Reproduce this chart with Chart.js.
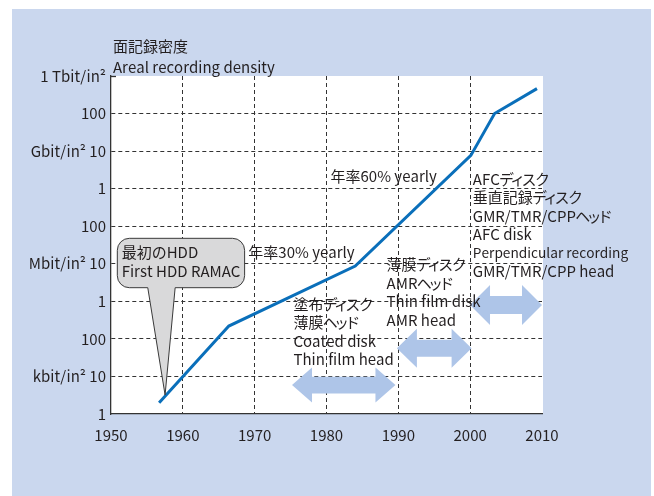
<!DOCTYPE html>
<html><head><meta charset="utf-8">
<script src="https://cdn.jsdelivr.net/npm/chart.js@4.4.1/dist/chart.umd.min.js"></script>
<style>html,body{margin:0;padding:0;background:#fff}#wrap{width:654px;height:496px;position:relative}</style>
</head><body><div id="wrap"><canvas id="c"></canvas></div>
<script>
// ---- data ----
const years = [1956.7, 1966.4, 1984.0, 2000.1, 2003.4, 2009.3];
const densityKbit = [2, 220, 8700, 7.7e6, 1.0e8, 4.6e8]; // kbit/in²
const xTickValues = [1950, 1960, 1970, 1980, 1990, 2000, 2010];
const xTickLabels = ['1950', '1960', '1970', '1980', '1990', '2000', '2010'];
const yTickValues = [1, 10, 100, 1e3, 1e4, 1e5, 1e6, 1e7, 1e8, 1e9];
const yTickLabels = ['1', 'kbit/in\u00B2 10', '100', '1', 'Mbit/in\u00B2 10', '100', '1', 'Gbit/in\u00B2 10', '100', '1 Tbit/in\u00B2'];
const titleLines = ['面記録密度', 'Areal recording density'];
const calloutLines = ['最初のHDD', 'First HDD RAMAC'];
const rate30 = '年率30% yearly';
const rate60 = '年率60% yearly';
const era1 = ['塗布ディスク', '薄膜ヘッド', 'Coated disk', 'Thin film head'];
const era2 = ['薄膜ディスク', 'AMRヘッド', 'Thin film disk', 'AMR head'];
const era3 = ['AFCディスク', '垂直記録ディスク', 'GMR/TMR/CPPヘッド', 'AFC disk', 'Perpendicular recording', 'GMR/TMR/CPP head'];

const FONT = "'Noto Sans CJK JP',sans-serif";
const TXT = '#231f20';

function drawText(ctx, text, x, y) {
  // proportional kana: narrower advance for katakana
  let cx = x;
  for (const ch of text) {
    const code = ch.codePointAt(0);
    const w = ctx.measureText(ch).width;
    let f = 1;
    if (code >= 0x30A0 && code <= 0x30FF) {
      f = 'ァィゥェォッャュョ'.includes(ch) ? 0.6 : 0.9;
    }
    const adv = w * f;
    ctx.fillText(ch, cx - (w - adv) / 2, y);
    cx += adv;
  }
}

const deco = {
  id: 'deco',
  beforeDraw(chart) {
    const ctx = chart.ctx, a = chart.chartArea;
    ctx.save();
    ctx.fillStyle = '#fff';
    ctx.fillRect(0, 0, chart.width, chart.height);
    ctx.fillStyle = '#cad7ee';
    ctx.fillRect(12, 9, 639, 487);
    ctx.fillStyle = '#fff';
    ctx.fillRect(a.left, a.top, a.right - a.left + 1, a.bottom - a.top);
    ctx.restore();
  },
  afterDatasetsDraw(chart) {
    const ctx = chart.ctx, xs = chart.scales.x, ys = chart.scales.y, a = chart.chartArea;
    const X = yr => xs.getPixelForValue(yr);
    const Y = d => ys.getPixelForValue(Math.pow(10, d));
    ctx.save();
    // small stub at top of the y axis
    ctx.strokeStyle = '#333';
    ctx.lineWidth = 1.3;
    ctx.beginPath();
    ctx.moveTo(a.left, a.top + 0.5);
    ctx.lineTo(a.left + 5, a.top + 0.5);
    ctx.stroke();

    function arrow(y1, y2, dc, headHalf, shaftHalf, headLen) {
      const l = X(y1), r = X(y2), c = Y(dc);
      ctx.beginPath();
      ctx.moveTo(l, c);
      ctx.lineTo(l + headLen, c - headHalf);
      ctx.lineTo(l + headLen, c - shaftHalf);
      ctx.lineTo(r - headLen, c - shaftHalf);
      ctx.lineTo(r - headLen, c - headHalf);
      ctx.lineTo(r, c);
      ctx.lineTo(r - headLen, c + headHalf);
      ctx.lineTo(r - headLen, c + shaftHalf);
      ctx.lineTo(l + headLen, c + shaftHalf);
      ctx.lineTo(l + headLen, c + headHalf);
      ctx.closePath();
      ctx.fillStyle = '#aec5e8';
      ctx.fill();
    }
    arrow(1975.2, 1989.6, 0.77, 17.5, 8.3, 20);
    arrow(1989.8, 2000.2, 1.75, 19.5, 8.5, 20);
    arrow(1999.98, 2010.0, 2.9, 20, 9, 20);

    // callout
    const bl = X(1950.88), br = X(1968.60), bt = Y(4.678), bb = Y(3.363), rad = 12;
    ctx.beginPath();
    ctx.moveTo(bl + rad, bt);
    ctx.lineTo(br - rad, bt);
    ctx.arcTo(br, bt, br, bt + rad, rad);
    ctx.lineTo(br, bb - rad);
    ctx.arcTo(br, bb, br - rad, bb, rad);
    ctx.lineTo(X(1958.93), bb);
    ctx.lineTo(X(1957.53), Y(0.506));
    ctx.lineTo(X(1955.12), bb);
    ctx.lineTo(bl + rad, bb);
    ctx.arcTo(bl, bb, bl, bb - rad, rad);
    ctx.lineTo(bl, bt + rad);
    ctx.arcTo(bl, bt, bl + rad, bt, rad);
    ctx.closePath();
    ctx.fillStyle = '#d9d9da';
    ctx.fill();
    ctx.strokeStyle = '#3a3a3a';
    ctx.lineWidth = 1;
    ctx.stroke();

    ctx.fillStyle = TXT;
    ctx.textBaseline = 'alphabetic';
    ctx.textAlign = 'left';
    function block(lines, yr, d0, lh, size) {
      const x = X(yr), y0 = Y(d0);
      lines.forEach((t, i) => {
        const sz = (size && size[i]) || 15;
        ctx.font = sz + 'px ' + FONT;
        drawText(ctx, t, x, y0 + i * lh);
      });
    }
    block(calloutLines, 1951.49, 4.145, 18.4);
    block([rate30], 1969.12, 4.153, 18);
    block([rate60], 1980.56, 6.190, 18);
    block(era1, 1975.40, 2.782, 18.5);
    block(era2, 1988.37, 3.834, 18.5);
    block(era3, 2000.37, 6.097, 18.3, [15, 15, 15, 15, 13.7, 15]);

    ctx.font = '15px ' + FONT;
    drawText(ctx, titleLines[0], a.left + 2, a.top - 24.5);
    drawText(ctx, titleLines[1], a.left + 2, a.top - 3.5);
    ctx.restore();
  }
};

new Chart(document.getElementById('c'), {
  type: 'line',
  data: {
    datasets: [{
      data: years.map((yr, i) => ({ x: yr, y: densityKbit[i] })),
      borderColor: '#0a6fba',
      borderWidth: 3,
      pointRadius: 0,
      tension: 0,
      fill: false
    }]
  },
  options: {
    responsive: true,
    maintainAspectRatio: false,
    animation: false,
    layout: { padding: { top: 76, right: 112, bottom: 0, left: 0 } },
    plugins: { legend: { display: false }, tooltip: { enabled: false } },
    scales: {
      x: {
        type: 'linear', min: 1950, max: 2010,
        afterBuildTicks: s => { s.ticks = xTickValues.map(v => ({ value: v })); },
        afterFit: s => { s.height = 82; },
        ticks: {
          autoSkip: false, maxRotation: 0, padding: 12,
          color: TXT, font: { family: FONT, size: 15 },
          callback: (v, i) => xTickLabels[i]
        },
        grid: {
          drawTicks: false,
          color: c => (c.tick && (c.tick.value === 1950 || c.tick.value === 2010)) ? 'rgba(0,0,0,0)' : '#333',
          lineWidth: 1
        },
        border: { display: true, color: '#333', width: 1.3, dash: [4, 3] }
      },
      y: {
        type: 'logarithmic', min: 1, max: 1e9,
        afterBuildTicks: s => { s.ticks = yTickValues.map(v => ({ value: v })); },
        afterFit: s => { s.width = 111; },
        ticks: {
          autoSkip: false, padding: 5,
          color: TXT, font: { family: FONT, size: 15 },
          callback: (v, i) => yTickLabels[i]
        },
        grid: {
          drawTicks: false,
          color: c => (c.tick && (c.tick.value === 1 || c.tick.value === 1e9)) ? 'rgba(0,0,0,0)' : '#333',
          lineWidth: 1
        },
        border: { display: true, color: '#333', width: 1.3, dash: [4, 3] }
      }
    }
  },
  plugins: [deco]
});
</script>
</body></html>
